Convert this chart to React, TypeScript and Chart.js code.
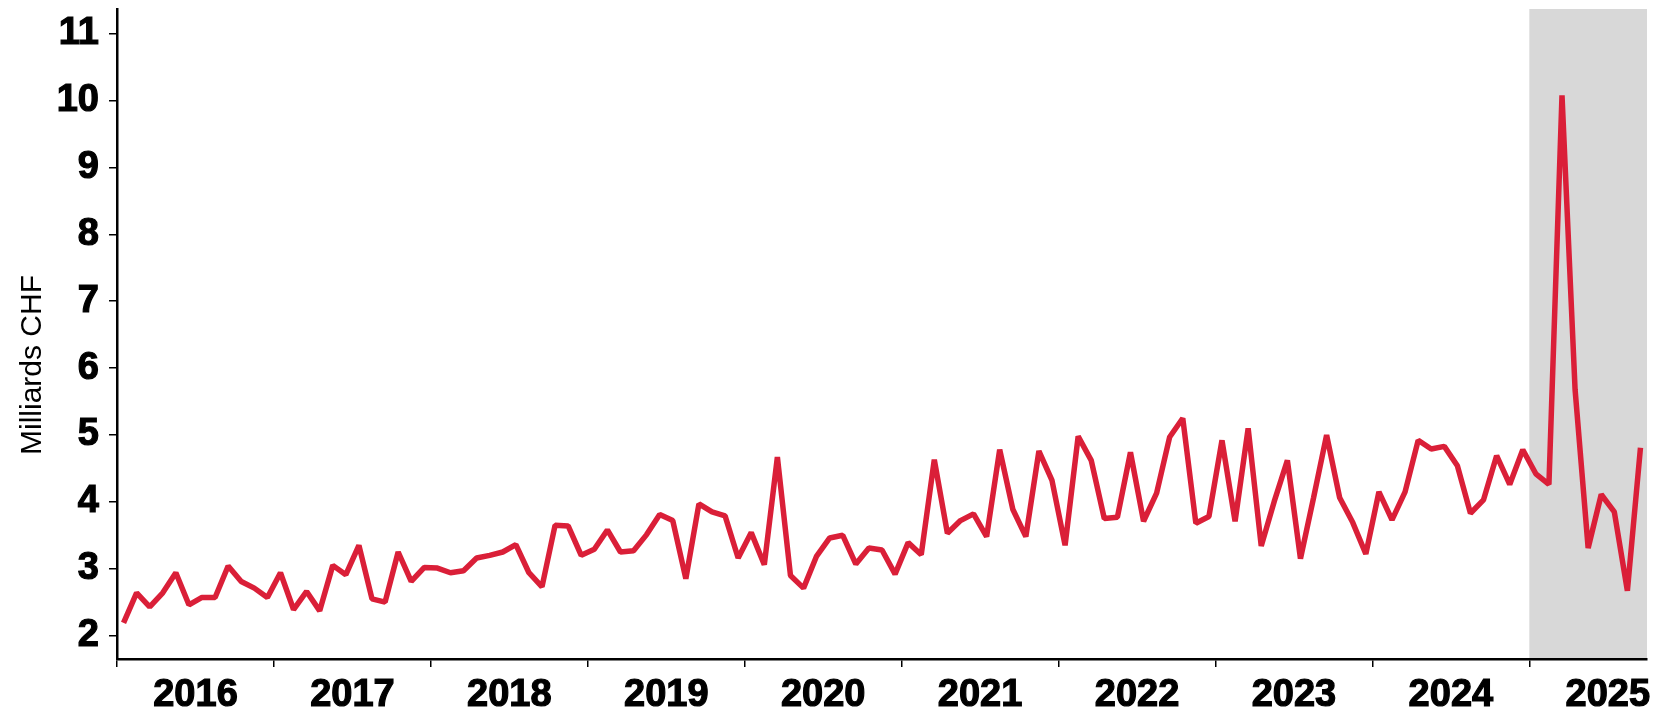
import React, { useEffect, useRef } from 'react';
import { Chart, registerables } from 'chart.js';

Chart.register(...registerables);

const startYear = 2016;
const yearLabels = ['2016', '2017', '2018', '2019', '2020', '2021', '2022', '2023', '2024', '2025'];
const values2016 = [2.19, 2.64, 2.43, 2.64, 2.94, 2.46, 2.57, 2.57, 3.04, 2.81, 2.71, 2.57];
const values2017 = [2.94, 2.39, 2.66, 2.37, 3.05, 2.91, 3.35, 2.55, 2.5, 3.25, 2.81, 3.02];
const values2018 = [3.01, 2.94, 2.97, 3.16, 3.2, 3.25, 3.36, 2.94, 2.73, 3.65, 3.64, 3.2];
const values2019 = [3.29, 3.58, 3.25, 3.27, 3.51, 3.81, 3.72, 2.85, 3.97, 3.85, 3.79, 3.16];
const values2020 = [3.54, 3.06, 4.67, 2.9, 2.71, 3.19, 3.46, 3.5, 3.07, 3.31, 3.28, 2.92];
const values2021 = [3.39, 3.21, 4.63, 3.53, 3.72, 3.82, 3.48, 4.78, 3.89, 3.48, 4.76, 4.32];
const values2022 = [3.35, 4.98, 4.62, 3.75, 3.77, 4.74, 3.71, 4.13, 4.97, 5.25, 3.68, 3.78];
const values2023 = [4.92, 3.71, 5.1, 3.34, 4.01, 4.62, 3.15, 4.06, 5.0, 4.06, 3.69, 3.22];
const values2024 = [4.15, 3.73, 4.15, 4.92, 4.79, 4.83, 4.54, 3.83, 4.03, 4.69, 4.26, 4.78];
const values2025 = [4.42, 4.26, 10.08, 5.68, 3.31, 4.11, 3.85, 2.67, 4.81];
const yTickValues = [2, 3, 4, 5, 6, 7, 8, 9, 10, 11];
const shadeStartYear = 2025;
const yAxisTitle = 'Milliards CHF';

export default function App() {
  const canvasRef = useRef<HTMLCanvasElement | null>(null);

  useEffect(() => {
    const canvas = canvasRef.current;
    if (!canvas) return;
    const allValues = [
      ...values2016, ...values2017, ...values2018, ...values2019, ...values2020,
      ...values2021, ...values2022, ...values2023, ...values2024, ...values2025,
    ];
    const points = allValues.map((v, i) => ({ x: i + 0.5, y: v }));
    const tickFont = { family: '"Liberation Sans", Arial, sans-serif', size: 38, weight: 'bold' as const };

    const shadePlugin = {
      id: 'shade',
      beforeDraw(chart: any) {
        const { ctx, chartArea, scales } = chart;
        const x0 = scales.x.getPixelForValue((shadeStartYear - startYear) * 12);
        ctx.save();
        ctx.fillStyle = '#d8d8d8';
        ctx.fillRect(x0, chartArea.top, chartArea.right - x0, chartArea.bottom - chartArea.top);
        ctx.restore();
      },
    };

    const titlePlugin = {
      id: 'yTitle',
      afterDraw(chart: any) {
        const { ctx } = chart;
        ctx.save();
        ctx.translate(33, 365);
        ctx.rotate(-Math.PI / 2);
        ctx.font = '30px "Liberation Sans", Arial, sans-serif';
        ctx.fillStyle = '#000';
        ctx.textAlign = 'center';
        ctx.textBaseline = 'middle';
        ctx.fillText(yAxisTitle, 0, 0);
        ctx.restore();
      },
    };

    const chart = new Chart(canvas, {
      type: 'line',
      data: {
        datasets: [
          {
            data: points,
            borderColor: '#da1f38',
            borderWidth: 5.5,
            borderJoinStyle: 'bevel',
            borderCapStyle: 'butt',
            pointRadius: 0,
            tension: 0,
            fill: false,
          },
        ],
      },
      options: {
        animation: false,
        responsive: false,
        maintainAspectRatio: false,
        layout: { padding: { top: 9, right: 7, left: 0, bottom: 0 } },
        plugins: { legend: { display: false }, tooltip: { enabled: false } },
        scales: {
          x: {
            type: 'linear',
            min: 0,
            max: 117,
            afterBuildTicks: (s: any) => {
              s.ticks = yearLabels.map((_, i) => ({ value: i * 12 }));
            },
            afterFit: (s: any) => {
              s.height = 52;
              s.paddingLeft = 0;
              s.paddingRight = 0;
            },
            ticks: {
              callback: (v: any) => yearLabels[Math.round(Number(v) / 12)] ?? '',
              labelOffset: 78.5,
              autoSkip: false,
              maxRotation: 0,
              minRotation: 0,
              font: tickFont,
              color: '#000',
              textStrokeColor: '#000',
              textStrokeWidth: 1.2,
              padding: 6,
            },
            grid: { display: true, drawOnChartArea: false, drawTicks: true, tickLength: 8, color: '#000', lineWidth: 1.5 },
            border: { display: true, color: '#000', width: 2.5 },
          },
          y: {
            type: 'linear',
            min: 1.65,
            max: 11.37,
            afterBuildTicks: (s: any) => {
              s.ticks = yTickValues.map((v) => ({ value: v }));
            },
            afterFit: (s: any) => {
              s.width = 117;
              s.paddingTop = 0;
              s.paddingBottom = 0;
            },
            ticks: {
              font: tickFont,
              color: '#000',
              textStrokeColor: '#000',
              textStrokeWidth: 1.2,
              padding: 10,
            },
            grid: { display: true, drawOnChartArea: false, drawTicks: true, tickLength: 8, color: '#000', lineWidth: 1.5 },
            border: { display: true, color: '#000', width: 2.5 },
          },
        },
      },
      plugins: [shadePlugin, titlePlugin],
    });

    return () => chart.destroy();
  }, []);

  return (
    <div style={{ position: 'absolute', left: 0, top: 0, width: 1654, height: 711, background: '#fff' }}>
      <canvas ref={canvasRef} width={1654} height={711} style={{ display: 'block' }} />
    </div>
  );
}
